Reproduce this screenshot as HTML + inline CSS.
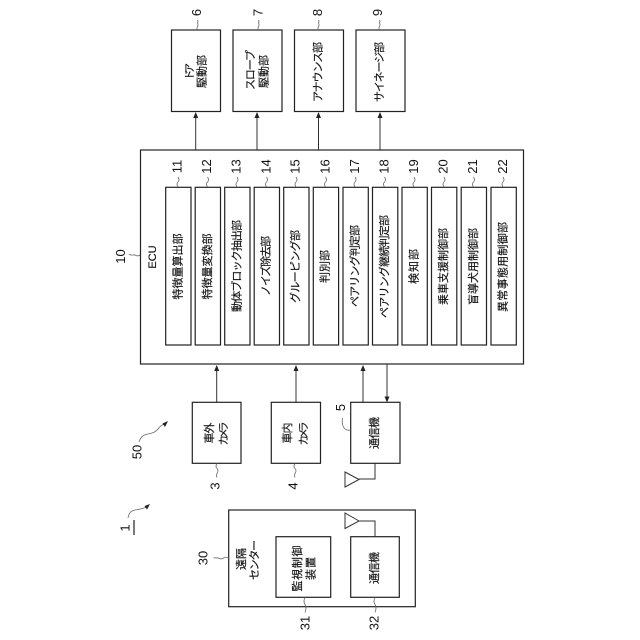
<!DOCTYPE html>
<html><head><meta charset="utf-8"><style>
html,body{margin:0;padding:0;background:#fff}
svg{display:block}
text{font-family:"Liberation Sans","Noto Sans CJK JP",sans-serif;fill:#111;text-anchor:middle;dominant-baseline:central}
.t{font-size:11px;stroke:#111;stroke-width:.15}
.k{font-size:10.500px;stroke:#111;stroke-width:.15}
.n{font-size:13px}
rect{fill:#fff;stroke:#222;stroke-width:1.200}
path{fill:none;stroke:#333;stroke-width:1}
.a{fill:#222;stroke:none}
.s{stroke:#666;stroke-width:.8}
</style></head><body>
<svg width="640" height="640" viewBox="0 0 640 640" xmlns="http://www.w3.org/2000/svg">
<!-- top boxes -->
<rect x="171.500" y="30" width="49" height="81.500"/>
<rect x="233" y="30" width="49" height="81.500"/>
<rect x="294.500" y="30" width="49" height="81.500"/>
<rect x="356" y="30" width="49" height="81.500"/>
<text class="k" transform="translate(190,71.500) rotate(-90)" textLength="17">ドア</text>
<text class="t" transform="translate(202.500,71.500) rotate(-90)" textLength="33">駆動部</text>
<text class="t" transform="translate(251,70) rotate(-90)" textLength="40">スロープ</text>
<text class="t" transform="translate(264.500,71.500) rotate(-90)" textLength="33">駆動部</text>
<text class="t" transform="translate(318.500,72) rotate(-90)" textLength="60">アナウンス部</text>
<text class="t" transform="translate(380,72) rotate(-90)" textLength="60">サイネージ部</text>
<text class="n" transform="translate(196.500,12.500) rotate(-90)">6</text>
<text class="n" transform="translate(258,12.500) rotate(-90)">7</text>
<text class="n" transform="translate(317.500,12.500) rotate(-90)">8</text>
<text class="n" transform="translate(377.500,12.500) rotate(-90)">9</text>
<path class="s" d="M197.500 30q-1-2 0-3.500t0-3.500q1-1.500 0-3"/>
<path class="s" d="M258.500 30q-1-2 0-3.500t0-3.500q1-1.500 0-3"/>
<path class="s" d="M318.500 30q-1-2 0-3.500t0-3.500q1-1.500 0-3"/>
<path class="s" d="M379.500 30q-1-2 0-3.500t0-3.500q1-1.500 0-3"/>
<!-- top arrows -->
<path d="M195.700 150V116M257 150V116M318.500 150V116M380 150V116"/>
<path class="a" d="M195.700 112l-2.500 6h5zM257 112l-2.500 6h5zM318.500 112l-2.500 6h5zM380 112l-2.500 6h5z"/>
<!-- ECU -->
<rect x="140.500" y="150" width="383" height="214"/>
<text class="t" transform="translate(153,257) rotate(-90)">ECU</text>
<text class="n" transform="translate(120.500,256.500) rotate(-90)">10</text>
<path class="s" d="M140 255q-2 1.500-4 .5t-3-.5q-2 .5-4-1"/>
<rect x="165.700" y="187.300" width="25.300" height="157.700"/>
<rect x="195.200" y="187.300" width="25.300" height="157.700"/>
<rect x="224.700" y="187.300" width="25.300" height="157.700"/>
<rect x="254.200" y="187.300" width="25.300" height="157.700"/>
<rect x="283.700" y="187.300" width="25.300" height="157.700"/>
<rect x="313.300" y="187.300" width="25.300" height="157.700"/>
<rect x="343" y="187.300" width="25.300" height="157.700"/>
<rect x="372.500" y="187.300" width="25.300" height="157.700"/>
<rect x="402" y="187.300" width="25.300" height="157.700"/>
<rect x="431.500" y="187.300" width="25.300" height="157.700"/>
<rect x="461.200" y="187.300" width="25.300" height="157.700"/>
<rect x="491" y="187.300" width="25.300" height="157.700"/>
<text class="t" transform="translate(178.500,266.500) rotate(-90)" textLength="66">特徴量算出部</text>
<text class="t" transform="translate(208,266.500) rotate(-90)" textLength="66">特徴量変換部</text>
<text class="t" transform="translate(237.500,266) rotate(-90)" textLength="92">動体ブロック抽出部</text>
<text class="t" transform="translate(266.500,266) rotate(-90)" textLength="60">ノイズ除去部</text>
<text class="t" transform="translate(296,266.500) rotate(-90)" textLength="73">グルーピング部</text>
<text class="t" transform="translate(325.500,266.500) rotate(-90)" textLength="33">判別部</text>
<text class="t" transform="translate(355.500,266) rotate(-90)" textLength="82">ペアリング判定部</text>
<text class="t" transform="translate(385,266.500) rotate(-90)" textLength="103">ペアリング継続判定部</text>
<text class="t" transform="translate(414.500,266.500) rotate(-90)" textLength="35">検知部</text>
<text class="t" transform="translate(444,266.500) rotate(-90)" textLength="77">乗車支援制御部</text>
<text class="t" transform="translate(474,266.500) rotate(-90)" textLength="77">盲導犬用制御部</text>
<text class="t" transform="translate(503.500,267) rotate(-90)" textLength="90">異常事態用制御部</text>
<text class="n" transform="translate(177,166.500) rotate(-90)">11</text>
<text class="n" transform="translate(206.500,166.500) rotate(-90)">12</text>
<text class="n" transform="translate(236,166.500) rotate(-90)">13</text>
<text class="n" transform="translate(266,166.500) rotate(-90)">14</text>
<text class="n" transform="translate(295,166.500) rotate(-90)">15</text>
<text class="n" transform="translate(325,166.500) rotate(-90)">16</text>
<text class="n" transform="translate(354.500,166.500) rotate(-90)">17</text>
<text class="n" transform="translate(384,166.500) rotate(-90)">18</text>
<text class="n" transform="translate(413.500,166.500) rotate(-90)">19</text>
<text class="n" transform="translate(443,166.500) rotate(-90)">20</text>
<text class="n" transform="translate(472.500,166.500) rotate(-90)">21</text>
<text class="n" transform="translate(502.500,166.500) rotate(-90)">22</text>
<path class="s" d="M178 187q-2-3 0-5t0-5M207.500 187q-2-3 0-5t0-5M237 187q-2-3 0-5t0-5M266.500 187q-2-3 0-5t0-5M296 187q-2-3 0-5t0-5M325.500 187q-2-3 0-5t0-5M355 187q-2-3 0-5t0-5M384.500 187q-2-3 0-5t0-5M414 187q-2-3 0-5t0-5M444 187q-2-3 0-5t0-5M473.500 187q-2-3 0-5t0-5M503 187q-2-3 0-5t0-5"/>
<!-- bottom row -->
<path d="M216.700 402.500V369M296 402.500V369M363 402.500V369M387 364V398"/>
<path class="a" d="M216.700 365l-2.500 6h5zM296 365l-2.500 6h5zM363 365l-2.500 6h5zM387 402.500l-2.500-6h5z"/>
<rect x="192.300" y="402.300" width="48.700" height="61"/>
<rect x="271.300" y="402.300" width="49.200" height="61"/>
<rect x="350.700" y="402.300" width="49.300" height="61"/>
<text class="t" transform="translate(210,433) rotate(-90)" textLength="21">車外</text>
<text class="k" transform="translate(224,433.500) rotate(-90)" textLength="24">カメラ</text>
<text class="t" transform="translate(288,433) rotate(-90)" textLength="21">車内</text>
<text class="k" transform="translate(304,433.500) rotate(-90)" textLength="24">カメラ</text>
<text class="t" transform="translate(375,433) rotate(-90)" textLength="32">通信機</text>
<text class="n" transform="translate(215,486) rotate(-90)">3</text>
<text class="n" transform="translate(293,486) rotate(-90)">4</text>
<text class="n" transform="translate(340.500,407.500) rotate(-90)">5</text>
<text class="n" transform="translate(137,452) rotate(-90)">50</text>
<path class="s" d="M217 463.500q-2 3 0 5t0 5q-1 2 0 4"/>
<path class="s" d="M295 463.500q-2 3 0 5t0 5q-1 2 0 4"/>
<path class="s" d="M350.500 430q-5 1-7-3t-1-9"/>
<path class="s" d="M139 442q2-7 9-8t10-5t8-6"/>
<path class="a" d="M168 421l-5.500 2.500l2.500 3.500z"/>
<path d="M375 463.500V479H359"/>
<path d="M359 479.500L345 472V487Z"/>
<!-- remote center -->
<rect x="228.700" y="510" width="186.600" height="96.700"/>
<rect x="276" y="536.700" width="54.700" height="60.600"/>
<rect x="350.700" y="536.700" width="48.600" height="60.600"/>
<path d="M375 536.700V521H359"/>
<path d="M359 521L345 513V528.500Z"/>
<text class="t" transform="translate(242,559) rotate(-90)" textLength="22">遠隔</text>
<text class="t" transform="translate(255,560) rotate(-90)" textLength="40">センター</text>
<text class="t" transform="translate(298,568.500) rotate(-90)" textLength="46">監視制御</text>
<text class="t" transform="translate(311.500,568.500) rotate(-90)" textLength="23">装置</text>
<text class="t" transform="translate(375,568) rotate(-90)" textLength="32">通信機</text>
<text class="n" transform="translate(203,558) rotate(-90)">30</text>
<text class="n" transform="translate(305,623) rotate(-90)">31</text>
<text class="n" transform="translate(374,623) rotate(-90)">32</text>
<path class="s" d="M228.500 558q-3-1.500-5 0t-4 .5t-6-.5"/>
<path class="s" d="M305 597.500q-2 4 0 7t0 8"/>
<path class="s" d="M375 597.500q-2 4 0 7t0 8"/>
<text class="n" transform="translate(125,528) rotate(-90)">1</text>
<path d="M134 520V535" style="stroke-width:1.300"/>
<path class="s" d="M128 518q1-7 7-8t9-2t4-2"/>
<path class="a" d="M150 504l-5.500 2l2.500 3.500z"/>
</svg>
</body></html>
